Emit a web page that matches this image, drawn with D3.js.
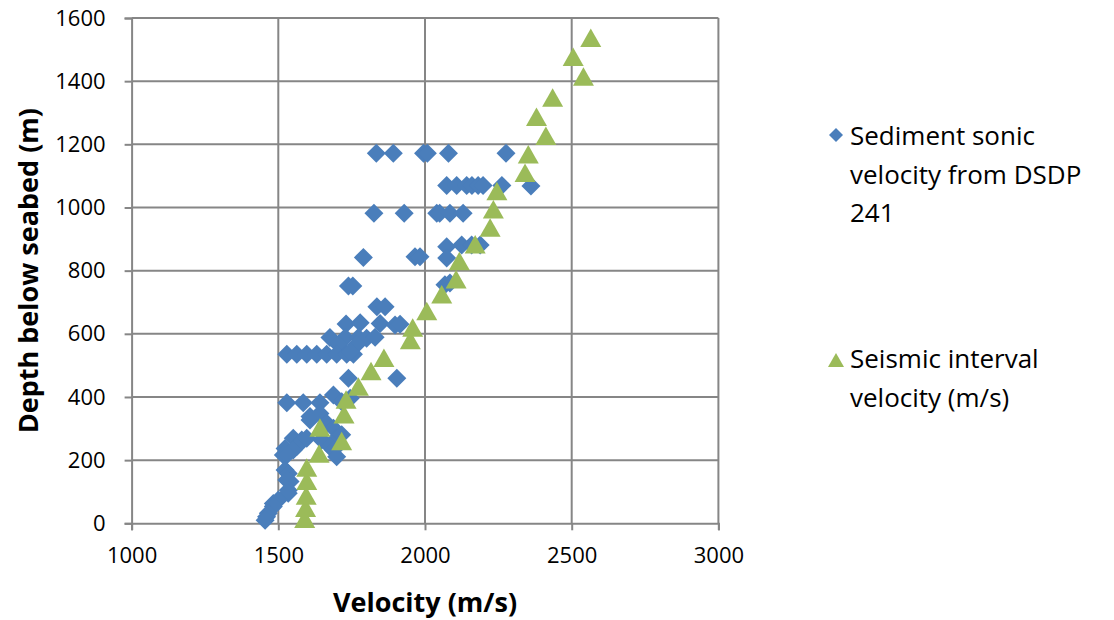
<!DOCTYPE html>
<html>
<head>
<meta charset="utf-8">
<script src="https://cdn.jsdelivr.net/npm/d3@7"></script>
<style>
  html, body { margin: 0; padding: 0; background: #ffffff; }
  svg { display: block; }
  text { font-family: "Open Sans", "DejaVu Sans", sans-serif; fill: #000; }
</style>
</head>
<body>
<svg id="chart" width="1114" height="620"></svg>
<script>
// ---- Data (velocity m/s, depth m) ----
const sonicVelocity = [
  1834, 1892, 1995, 2008, 2080, 2276,
  2074, 2108, 2142, 2160, 2181, 2198, 2262, 2361,
  1826, 1929, 2040, 2050, 2085, 2130,
  2074, 2125, 2159, 2188,
  1790, 1966, 1983, 2074,
  1739, 1754, 2068, 2085,
  1836, 1864,
  1731, 1779, 1847, 1898, 1915,
  1676, 1728, 1773, 1801, 1830,
  1705, 1767,
  1529, 1563, 1597, 1631, 1665, 1699, 1733, 1756, 1745,
  1739, 1904,
  1529, 1585, 1642, 1688, 1716, 1745,
  1608, 1642, 1665, 1688, 1608,
  1551, 1580, 1597, 1648, 1699, 1716, 1563, 1523, 1676,
  1517, 1551, 1529, 1688, 1699,
  1523, 1534, 1540, 1529, 1534, 1534, 1500, 1483, 1483, 1466, 1460, 1455
];
const sonicDepth = [
  1172, 1172, 1172, 1172, 1172, 1172,
  1070, 1070, 1070, 1070, 1070, 1070, 1070, 1068,
  982, 982, 982, 982, 982, 982,
  876, 881, 881, 881,
  842, 844, 844, 840,
  751, 751, 755, 761,
  686, 686,
  631, 635, 633, 628, 630,
  588, 588, 588, 586, 589,
  565, 565,
  535, 535, 535, 535, 535, 535, 535, 535, 543,
  459, 459,
  382, 382, 382, 406, 385, 396,
  327, 348, 317, 301, 338,
  269, 264, 269, 264, 269, 280, 243, 237, 243,
  216, 232, 216, 232, 211,
  169, 158, 132, 137, 105, 95, 74, 63, 53, 32, 21, 10
];
const seismicVelocity = [
  1590, 1593, 1595, 1597, 1597, 1639, 1716, 1642, 1724, 1731, 1773, 1816, 1860,
  1950, 1958, 2006, 2057, 2106, 2117, 2171, 2222, 2233, 2245, 2341, 2352,
  2412, 2380, 2435, 2540, 2505, 2565
];
const seismicDepth = [
  12, 47, 86, 132, 174, 219, 258, 301, 343, 390, 431, 480, 522,
  578, 618, 670, 723, 770, 828, 881, 934, 992, 1050, 1108, 1166,
  1225, 1285, 1346, 1412, 1475, 1535
];
const xTicks = [1000, 1500, 2000, 2500, 3000];
const yTicks = [0, 200, 400, 600, 800, 1000, 1200, 1400, 1600];
const seriesNames = [
  ["Sediment sonic", "velocity from DSDP", "241"],
  ["Seismic interval", "velocity (m/s)"]
];
const xTitle = "Velocity (m/s)";
const yTitle = "Depth below seabed (m)";

// ---- Layout ----
const svg = d3.select("#chart");
const plot = { left: 131.6, right: 718.4, top: 18, bottom: 523.3 };
const x = d3.scaleLinear().domain([1000, 3000]).range([plot.left, plot.right]);
const y = d3.scaleLinear().domain([0, 1600]).range([plot.bottom, plot.top]);
const gridColor = "#868686";
const blue = "#4a7ebb";
const green = "#9bbb59";

// gridlines
const g = svg.append("g");
g.selectAll("line.vg").data(xTicks.slice(1)).join("line")
  .attr("x1", d => x(d)).attr("x2", d => x(d))
  .attr("y1", plot.top).attr("y2", plot.bottom)
  .attr("stroke", gridColor).attr("stroke-width", 2);
g.selectAll("line.hg").data(yTicks.slice(1)).join("line")
  .attr("x1", plot.left).attr("x2", plot.right)
  .attr("y1", d => y(d)).attr("y2", d => y(d))
  .attr("stroke", gridColor).attr("stroke-width", 2);

// axes
const xAxis = d3.axisBottom(x).tickValues(xTicks).tickSize(7).tickPadding(17).tickFormat(d3.format("d"));
const yAxis = d3.axisLeft(y).tickValues(yTicks).tickSize(7).tickPadding(19).tickFormat(d3.format("d"));
const gx = svg.append("g").attr("transform", `translate(0,${plot.bottom})`).call(xAxis);
const gy = svg.append("g").attr("transform", `translate(${plot.left},0)`).call(yAxis);
[gx, gy].forEach(a => {
  a.select(".domain").attr("stroke", gridColor).attr("stroke-width", 2);
  a.selectAll(".tick line").attr("stroke", gridColor).attr("stroke-width", 2);
  a.selectAll(".tick text").attr("font-size", 22).attr("font-family", "Open Sans").attr("fill", "#000");
});

// markers
const diamond = "M0,-9.5L9.5,0L0,9.5L-9.5,0Z";
const triangle = "M0,-10L10.5,8.5L-10.5,8.5Z";
const sonic = sonicVelocity.map((v, i) => ({ v, d: sonicDepth[i] }));
const seismic = seismicVelocity.map((v, i) => ({ v, d: seismicDepth[i] }));
svg.append("g").selectAll("path").data(sonic).join("path")
  .attr("d", diamond)
  .attr("transform", p => `translate(${x(p.v)},${y(p.d)})`)
  .attr("fill", blue);
svg.append("g").selectAll("path").data(seismic).join("path")
  .attr("d", triangle)
  .attr("transform", p => `translate(${x(p.v)},${y(p.d)})`)
  .attr("fill", green);

// axis titles
svg.append("text").attr("x", (plot.left + plot.right) / 2).attr("y", 612)
  .attr("text-anchor", "middle").attr("font-size", 27).attr("font-weight", "bold")
  .text(xTitle);
svg.append("text").attr("transform", `translate(38,${(plot.top + plot.bottom) / 2}) rotate(-90)`)
  .attr("text-anchor", "middle").attr("font-size", 27).attr("font-weight", "bold")
  .text(yTitle);

// legend
const legend = svg.append("g");
const legendY = [145, 368];
const legendMarks = [
  { path: "M0,-7L7,0L0,7L-7,0Z", color: blue, cy: 135 },
  { path: "M0,-8L8,6L-8,6Z", color: green, cy: 361 }
];
seriesNames.forEach((lines, i) => {
  legend.append("path").attr("d", legendMarks[i].path)
    .attr("transform", `translate(836,${legendMarks[i].cy})`)
    .attr("fill", legendMarks[i].color);
  const t = legend.append("text").attr("x", 850).attr("y", legendY[i]).attr("font-size", 26);
  lines.forEach((line, j) => {
    t.append("tspan").attr("x", 850).attr("y", legendY[i] + j * 38.5).text(line);
  });
});
</script>
</body>
</html>
